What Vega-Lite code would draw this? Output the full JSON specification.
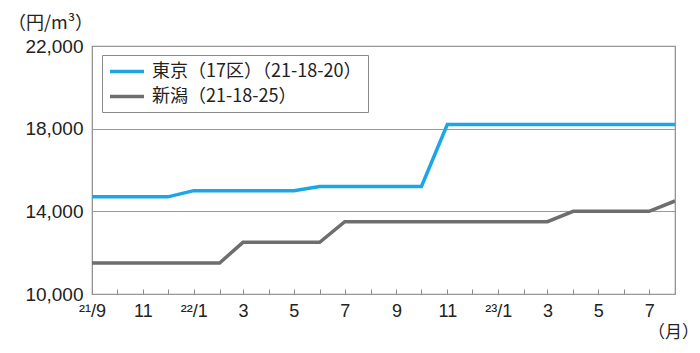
{
  "$schema": "https://vega.github.io/schema/vega-lite/v6.json",
  "width": 583,
  "height": 248,
  "autosize": {"type": "none"},
  "padding": {"left": 92, "top": 46, "right": 25, "bottom": 59},
  "background": "white",
  "config": {
    "view": {"stroke": "#8a8a8a", "strokeWidth": 1.2},
    "font": "Liberation Sans"
  },
  "data": {
    "values": [
      {"date": "2021-09-01", "series": "東京（17区）（21-18-20）", "value": 14700},
      {"date": "2021-10-01", "series": "東京（17区）（21-18-20）", "value": 14700},
      {"date": "2021-11-01", "series": "東京（17区）（21-18-20）", "value": 14700},
      {"date": "2021-12-01", "series": "東京（17区）（21-18-20）", "value": 14700},
      {"date": "2022-01-01", "series": "東京（17区）（21-18-20）", "value": 15000},
      {"date": "2022-02-01", "series": "東京（17区）（21-18-20）", "value": 15000},
      {"date": "2022-03-01", "series": "東京（17区）（21-18-20）", "value": 15000},
      {"date": "2022-04-01", "series": "東京（17区）（21-18-20）", "value": 15000},
      {"date": "2022-05-01", "series": "東京（17区）（21-18-20）", "value": 15000},
      {"date": "2022-06-01", "series": "東京（17区）（21-18-20）", "value": 15200},
      {"date": "2022-07-01", "series": "東京（17区）（21-18-20）", "value": 15200},
      {"date": "2022-08-01", "series": "東京（17区）（21-18-20）", "value": 15200},
      {"date": "2022-09-01", "series": "東京（17区）（21-18-20）", "value": 15200},
      {"date": "2022-10-01", "series": "東京（17区）（21-18-20）", "value": 15200},
      {"date": "2022-11-01", "series": "東京（17区）（21-18-20）", "value": 18200},
      {"date": "2022-12-01", "series": "東京（17区）（21-18-20）", "value": 18200},
      {"date": "2023-01-01", "series": "東京（17区）（21-18-20）", "value": 18200},
      {"date": "2023-02-01", "series": "東京（17区）（21-18-20）", "value": 18200},
      {"date": "2023-03-01", "series": "東京（17区）（21-18-20）", "value": 18200},
      {"date": "2023-04-01", "series": "東京（17区）（21-18-20）", "value": 18200},
      {"date": "2023-05-01", "series": "東京（17区）（21-18-20）", "value": 18200},
      {"date": "2023-06-01", "series": "東京（17区）（21-18-20）", "value": 18200},
      {"date": "2023-07-01", "series": "東京（17区）（21-18-20）", "value": 18200},
      {"date": "2023-08-01", "series": "東京（17区）（21-18-20）", "value": 18200},
      {"date": "2021-09-01", "series": "新潟（21-18-25）", "value": 11500},
      {"date": "2021-10-01", "series": "新潟（21-18-25）", "value": 11500},
      {"date": "2021-11-01", "series": "新潟（21-18-25）", "value": 11500},
      {"date": "2021-12-01", "series": "新潟（21-18-25）", "value": 11500},
      {"date": "2022-01-01", "series": "新潟（21-18-25）", "value": 11500},
      {"date": "2022-02-01", "series": "新潟（21-18-25）", "value": 11500},
      {"date": "2022-03-01", "series": "新潟（21-18-25）", "value": 12500},
      {"date": "2022-04-01", "series": "新潟（21-18-25）", "value": 12500},
      {"date": "2022-05-01", "series": "新潟（21-18-25）", "value": 12500},
      {"date": "2022-06-01", "series": "新潟（21-18-25）", "value": 12500},
      {"date": "2022-07-01", "series": "新潟（21-18-25）", "value": 13500},
      {"date": "2022-08-01", "series": "新潟（21-18-25）", "value": 13500},
      {"date": "2022-09-01", "series": "新潟（21-18-25）", "value": 13500},
      {"date": "2022-10-01", "series": "新潟（21-18-25）", "value": 13500},
      {"date": "2022-11-01", "series": "新潟（21-18-25）", "value": 13500},
      {"date": "2022-12-01", "series": "新潟（21-18-25）", "value": 13500},
      {"date": "2023-01-01", "series": "新潟（21-18-25）", "value": 13500},
      {"date": "2023-02-01", "series": "新潟（21-18-25）", "value": 13500},
      {"date": "2023-03-01", "series": "新潟（21-18-25）", "value": 13500},
      {"date": "2023-04-01", "series": "新潟（21-18-25）", "value": 14000},
      {"date": "2023-05-01", "series": "新潟（21-18-25）", "value": 14000},
      {"date": "2023-06-01", "series": "新潟（21-18-25）", "value": 14000},
      {"date": "2023-07-01", "series": "新潟（21-18-25）", "value": 14000},
      {"date": "2023-08-01", "series": "新潟（21-18-25）", "value": 14500}
    ]
  },
  "mark": {"type": "line", "strokeWidth": 3.5, "strokeJoin": "miter", "clip": true},
  "encoding": {
    "x": {
      "field": "date",
      "type": "temporal",
      "scale": {"type": "utc", "domain": [{"year": 2021, "month": 9, "date": 1, "utc": true}, {"year": 2023, "month": 8, "date": 1, "utc": true}], "nice": false},
      "axis": {
        "values": [
          {"year": 2021, "month": 9, "date": 1, "utc": true},
          {"year": 2021, "month": 10, "date": 1, "utc": true},
          {"year": 2021, "month": 11, "date": 1, "utc": true},
          {"year": 2021, "month": 12, "date": 1, "utc": true},
          {"year": 2022, "month": 1, "date": 1, "utc": true},
          {"year": 2022, "month": 2, "date": 1, "utc": true},
          {"year": 2022, "month": 3, "date": 1, "utc": true},
          {"year": 2022, "month": 4, "date": 1, "utc": true},
          {"year": 2022, "month": 5, "date": 1, "utc": true},
          {"year": 2022, "month": 6, "date": 1, "utc": true},
          {"year": 2022, "month": 7, "date": 1, "utc": true},
          {"year": 2022, "month": 8, "date": 1, "utc": true},
          {"year": 2022, "month": 9, "date": 1, "utc": true},
          {"year": 2022, "month": 10, "date": 1, "utc": true},
          {"year": 2022, "month": 11, "date": 1, "utc": true},
          {"year": 2022, "month": 12, "date": 1, "utc": true},
          {"year": 2023, "month": 1, "date": 1, "utc": true},
          {"year": 2023, "month": 2, "date": 1, "utc": true},
          {"year": 2023, "month": 3, "date": 1, "utc": true},
          {"year": 2023, "month": 4, "date": 1, "utc": true},
          {"year": 2023, "month": 5, "date": 1, "utc": true},
          {"year": 2023, "month": 6, "date": 1, "utc": true},
          {"year": 2023, "month": 7, "date": 1, "utc": true}
        ],
        "labelExpr": "(utcmonth(datum.value)==0 || (utcyear(datum.value)==2021 && utcmonth(datum.value)==8)) ? ((utcyear(datum.value)==2021 ? '²¹' : utcyear(datum.value)==2022 ? '²²' : '²³') + '/' + (utcmonth(datum.value)+1)) : (utcmonth(datum.value)%2==0 ? '' + (utcmonth(datum.value)+1) : '')",
        "grid": false,
        "domain": false,
        "ticks": true,
        "tickSize": -5,
        "tickColor": "#8a8a8a",
        "tickWidth": 1,
        "labelPadding": 13,
        "labelFontSize": 18,
        "labelColor": "#222",
        "labelFont": "Liberation Sans",
        "labelOverlap": false,
        "labelBound": false,
        "labelFlush": false,
        "title": "（月）",
        "titleFont": "Noto Sans CJK JP",
        "titleFontSize": 17,
        "titleFontWeight": "normal",
        "titleColor": "#222",
        "titleX": 581,
        "titleY": 38,
        "titleAlign": "center",
        "titleBaseline": "middle"
      }
    },
    "y": {
      "field": "value",
      "type": "quantitative",
      "scale": {"domain": [10000, 22000], "nice": false, "zero": false},
      "axis": {
        "values": [10000, 14000, 18000, 22000],
        "format": ",d",
        "grid": true,
        "gridColor": "#9a9a9a",
        "gridWidth": 1.2,
        "domain": false,
        "ticks": false,
        "labelPadding": 9,
        "labelFontSize": 19,
        "labelColor": "#222",
        "labelFont": "Liberation Sans",
        "title": "（円/m³）",
        "titleFont": "Noto Sans CJK JP",
        "titleFontSize": 18,
        "titleFontWeight": "normal",
        "titleColor": "#222",
        "titleAngle": 0,
        "titleX": -42,
        "titleY": -23,
        "titleAlign": "center",
        "titleBaseline": "middle"
      }
    },
    "color": {
      "field": "series",
      "type": "nominal",
      "sort": ["東京（17区）（21-18-20）", "新潟（21-18-25）"],
      "scale": {"domain": ["東京（17区）（21-18-20）", "新潟（21-18-25）"], "range": ["#1ca6e6", "#6e6e6e"]},
      "legend": {
        "title": null,
        "orient": "none",
        "legendX": 10,
        "legendY": 9,
        "direction": "vertical",
        "symbolType": "M-1,0H3",
        "symbolSize": 289,
        "symbolStrokeWidth": 3.5,
        "labelFont": "Noto Sans CJK JP",
        "labelFontSize": 18,
        "labelColor": "#222",
        "labelLimit": 400,
        "labelOffset": 23,
        "rowPadding": 5,
        "padding": 6,
        "strokeColor": "#8a8a8a",
        "fillColor": "white",
        "cornerRadius": 0
      }
    }
  }
}
